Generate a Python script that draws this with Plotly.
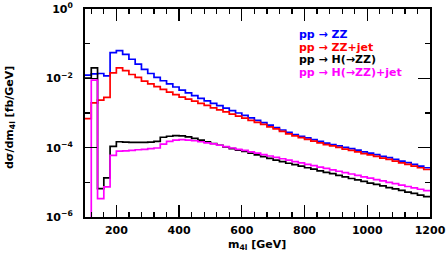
import plotly.graph_objects as go

# bin lower edges (GeV), 20 GeV bins from 100 to 1200
bin_lo = list(range(100, 1200, 20))
bin_hi_last = 1200

# log10 of dσ/dm4l [fb/GeV] per bin
zz_log10 = [-1.91, -1.87, -1.86, -1.93, -1.26, -1.20, -1.31, -1.45, -1.59, -1.74,
            -1.86, -1.97, -2.07, -2.16, -2.25, -2.34, -2.42, -2.50, -2.58, -2.65,
            -2.72, -2.79, -2.86, -2.93, -3.00, -3.07, -3.14, -3.21, -3.28, -3.35,
            -3.42, -3.49, -3.56, -3.62, -3.67, -3.72, -3.77, -3.82, -3.87, -3.91,
            -3.95, -3.99, -4.03, -4.07, -4.12, -4.16, -4.20, -4.25, -4.29, -4.34,
            -4.39, -4.43, -4.48, -4.53, -4.58]
zzjet_log10 = [-3.16, -2.71, -2.63, -2.55, -1.84, -1.70, -1.78, -1.89, -1.97, -2.08,
               -2.16, -2.24, -2.32, -2.40, -2.47, -2.54, -2.60, -2.66, -2.72, -2.78,
               -2.85, -2.91, -2.97, -3.03, -3.09, -3.15, -3.21, -3.27, -3.33, -3.40,
               -3.46, -3.53, -3.60, -3.66, -3.71, -3.76, -3.81, -3.86, -3.91, -3.95,
               -3.99, -4.04, -4.08, -4.12, -4.17, -4.21, -4.25, -4.30, -4.34, -4.39,
               -4.44, -4.48, -4.53, -4.58, -4.63]
h_log10 = [-1.99, -1.70, -5.18, -4.87, -3.96, -3.83, -3.84, -3.85, -3.85, -3.85,
           -3.84, -3.82, -3.70, -3.67, -3.65, -3.66, -3.69, -3.73, -3.78, -3.83,
           -3.88, -3.93, -3.98, -4.03, -4.07, -4.11, -4.16, -4.21, -4.26, -4.31,
           -4.36, -4.40, -4.45, -4.49, -4.53, -4.58, -4.62, -4.67, -4.71, -4.75,
           -4.80, -4.84, -4.89, -4.93, -4.97, -5.02, -5.06, -5.10, -5.15, -5.19,
           -5.23, -5.28, -5.32, -5.37, -5.41]
hjet_log10 = [-9.00, -2.05, -5.47, -5.13, -4.22, -4.10, -4.09, -4.08, -4.06, -4.05,
              -4.03, -4.01, -3.90, -3.82, -3.78, -3.77, -3.78, -3.80, -3.83, -3.86,
              -3.89, -3.93, -3.97, -4.01, -4.05, -4.08, -4.12, -4.16, -4.20, -4.24,
              -4.28, -4.32, -4.36, -4.40, -4.44, -4.48, -4.52, -4.56, -4.60, -4.64,
              -4.68, -4.72, -4.76, -4.80, -4.84, -4.88, -4.92, -4.96, -5.00, -5.04,
              -5.08, -5.12, -5.16, -5.20, -5.24]

series = [
    ("pp → ZZ", zz_log10, "#0000ff"),
    ("pp → ZZ+jet", zzjet_log10, "#ff0000"),
    ("pp → H(→ZZ)", h_log10, "#000000"),
    ("pp → H(→ZZ)+jet", hjet_log10, "#ff00ff"),
]

x_tick_vals = [200, 400, 600, 800, 1000, 1200]
y_tick_vals = [1e-6, 1e-4, 1e-2, 1e0]
y_tick_text = ["<b>10<sup>−6</sup></b>", "<b>10<sup>−4</sup></b>",
               "<b>10<sup>−2</sup></b>", "<b>10<sup>0</sup></b>"]

FONT = "DejaVu Sans"
W, H = 446, 254
ML, MR, MT, MB = 85, 16, 9, 37

fig = go.Figure()
for name, logs, col in series:
    ys = [10 ** v for v in logs]
    fig.add_trace(go.Scatter(
        x=bin_lo + [bin_hi_last], y=ys + [ys[-1]],
        mode="lines", line=dict(color=col, width=1.7, shape="hv"),
        name=name, showlegend=False, hoverinfo="skip"))

axis_common = dict(showline=True, linecolor="black", linewidth=2, mirror="allticks",
                   ticks="inside", tickcolor="black", tickwidth=1.3, ticklen=12,
                   showgrid=False, zeroline=False, automargin=False)

fig.update_xaxes(range=[100, 1200], tickvals=x_tick_vals,
                 ticktext=[f"<b>{v}</b>" for v in x_tick_vals],
                 tickfont=dict(family=FONT, size=11, color="black"),
                 ticklabelstandoff=2,
                 minor=dict(dtick=40, tick0=0, ticks="inside", ticklen=5,
                            tickcolor="black", tickwidth=1.3, showgrid=False),
                 **axis_common)
fig.update_yaxes(type="log", range=[-6, 0], tickvals=y_tick_vals, ticktext=y_tick_text,
                 tickfont=dict(family=FONT, size=11, color="black"),
                 ticklabelstandoff=8,
                 minor=dict(tickvals=[1e-5, 1e-3, 1e-1], ticks="inside", ticklen=5,
                            tickcolor="black", tickwidth=1.3, showgrid=False),
                 **axis_common)

def px_to_paper(xp, yp):
    return (xp - ML) / (W - ML - MR), (H - MB - yp) / (H - MT - MB)

annotations = []
legend_rows_y = [34.5, 47, 59.5, 72]
for (name, _, col), yp in zip(series, legend_rows_y):
    px, py = px_to_paper(297, yp)
    annotations.append(dict(x=px, y=py, xref="paper", yref="paper", text=f"<b>{name}</b>",
                            showarrow=False, xanchor="left", yanchor="middle",
                            font=dict(family=FONT, size=11, color=col)))

px, py = px_to_paper(257, 245)
annotations.append(dict(x=px, y=py, xref="paper", yref="paper",
                        text="<b>m<sub>4l</sub> [GeV]</b>", showarrow=False,
                        xanchor="center", yanchor="middle",
                        font=dict(family=FONT, size=11, color="black")))
px, py = px_to_paper(10, 118)
annotations.append(dict(x=px, y=py, xref="paper", yref="paper",
                        text="<b>dσ/dm<sub>4l</sub> [fb/GeV]</b>", showarrow=False,
                        xanchor="center", yanchor="middle", textangle=-90,
                        font=dict(family=FONT, size=11, color="black")))

fig.update_layout(width=W, height=H, margin=dict(l=ML, r=MR, t=MT, b=MB, autoexpand=False),
                  paper_bgcolor="white", plot_bgcolor="white",
                  annotations=annotations, showlegend=False)

fig.write_html("out.html", config={"displayModeBar": False, "staticPlot": True},
               post_script="document.body.style.margin='0';document.body.style.overflow='hidden';")
